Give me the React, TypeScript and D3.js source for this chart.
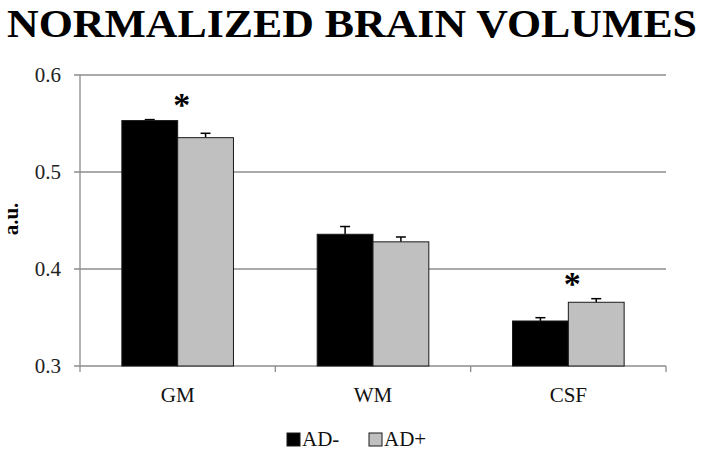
import React from "react";
import * as d3 from "d3";

const categories = ["GM", "WM", "CSF"];
const seriesNames = ["AD-", "AD+"];
const adMinus = [0.553, 0.4358, 0.3464];
const adPlus = [0.5354, 0.428, 0.3657];
const errMinus = [0.001, 0.008, 0.0034];
const errPlus = [0.0045, 0.005, 0.0037];
const significant = [true, false, true];
const yTicks = [0.3, 0.4, 0.5, 0.6];
const title = "NORMALIZED BRAIN VOLUMES";
const yLabel = "a.u.";

const W = 708;
const H = 450;
const margin = { top: 75, right: 42, bottom: 84, left: 80 };
const serif = "'Liberation Serif', 'Times New Roman', Times, serif";
const colors = ["#000000", "#c0c0c0"];

export default function App() {
  const x0 = d3
    .scaleBand<string>()
    .domain(categories)
    .range([margin.left, W - margin.right])
    .paddingInner(0)
    .paddingOuter(0);
  const bw = x0.bandwidth();
  const x1 = d3
    .scaleBand<string>()
    .domain(seriesNames)
    .range([0, bw])
    .paddingOuter(0.75)
    .paddingInner(0);
  const y = d3
    .scaleLinear()
    .domain([0.3, 0.6])
    .range([H - margin.bottom, margin.top]);

  const values = [adMinus, adPlus];
  const errs = [errMinus, errPlus];
  const axisColor = "#8c8c8c";
  const x0Left = margin.left;
  const xRight = W - margin.right;
  const yBase = y(0.3);

  return (
    <div style={{ position: "fixed", left: 0, top: 0 }}>
      <svg width={W} height={H} style={{ display: "block", background: "#fff" }}>
        <text
          x={7}
          y={37}
          textLength={690}
          lengthAdjust="spacingAndGlyphs"
          fontFamily={serif}
          fontWeight="bold"
          fontSize={41}
          fill="#000"
        >
          {title}
        </text>

        {/* gridlines */}
        {yTicks.map((t) => (
          <line
            key={"g" + t}
            x1={x0Left - 6}
            x2={xRight}
            y1={y(t)}
            y2={y(t)}
            stroke={axisColor}
            strokeWidth={1.3}
          />
        ))}
        {/* y axis */}
        <line x1={x0Left} x2={x0Left} y1={y(0.6)} y2={yBase} stroke={axisColor} strokeWidth={1.3} />
        {yTicks.map((t) => (
          <text
            key={"t" + t}
            x={61}
            y={y(t)}
            dy="0.35em"
            textAnchor="end"
            fontFamily={serif}
            fontSize={21}
            fill="#222"
          >
            {t.toFixed(1)}
          </text>
        ))}
        <text
          transform={`translate(18, 219) rotate(-90)`}
          textAnchor="middle"
          fontFamily={serif}
          fontWeight="bold"
          fontSize={21}
          fill="#000"
        >
          {yLabel}
        </text>

        {/* x tick marks */}
        {[...categories.map((c) => x0(c) as number), xRight].map((xv, i) => (
          <line
            key={"xt" + i}
            x1={xv}
            x2={xv}
            y1={yBase}
            y2={yBase + 6}
            stroke={axisColor}
            strokeWidth={1.3}
          />
        ))}

        {/* bars */}
        {categories.map((c, ci) =>
          seriesNames.map((s, si) => {
            const bx = (x0(c) as number) + (x1(s) as number);
            const v = values[si][ci];
            const e = errs[si][ci];
            const cx = bx + x1.bandwidth() / 2;
            return (
              <g key={c + s}>
                <line x1={cx} x2={cx} y1={y(v)} y2={y(v + e)} stroke="#000" strokeWidth={1.5} />
                <line x1={cx - 5} x2={cx + 5} y1={y(v + e)} y2={y(v + e)} stroke="#000" strokeWidth={1.5} />
                <rect
                  x={bx}
                  y={y(v)}
                  width={x1.bandwidth()}
                  height={yBase - y(v)}
                  fill={colors[si]}
                  stroke="#1a1a1a"
                  strokeWidth={1}
                />
              </g>
            );
          })
        )}

        {/* significance */}
        {categories.map((c, ci) => {
          if (!significant[ci]) return null;
          const top = Math.max(adMinus[ci] + errMinus[ci], adPlus[ci] + errPlus[ci]);
          const cx = (x0(c) as number) + bw / 2 + 4;
          return (
            <text
              key={"s" + c}
              x={cx}
              y={y(top) - 4}
              textAnchor="middle"
              fontFamily={serif}
              fontWeight="bold"
              fontSize={34}
              fill="#000"
            >
              *
            </text>
          );
        })}

        {/* x labels */}
        {categories.map((c) => (
          <text
            key={"xl" + c}
            x={(x0(c) as number) + bw / 2}
            y={402}
            textAnchor="middle"
            fontFamily={serif}
            fontSize={21}
            fill="#111"
          >
            {c}
          </text>
        ))}

        {/* legend */}
        {seriesNames.map((s, si) => {
          const lx = [287, 369][si];
          return (
            <g key={"lg" + s}>
              <rect
                x={lx}
                y={433}
                width={13}
                height={13}
                fill={colors[si]}
                stroke="#1a1a1a"
                strokeWidth={1}
              />
              <text x={lx + 15} y={446} fontFamily={serif} fontSize={21} fill="#111">
                {s}
              </text>
            </g>
          );
        })}
      </svg>
    </div>
  );
}
